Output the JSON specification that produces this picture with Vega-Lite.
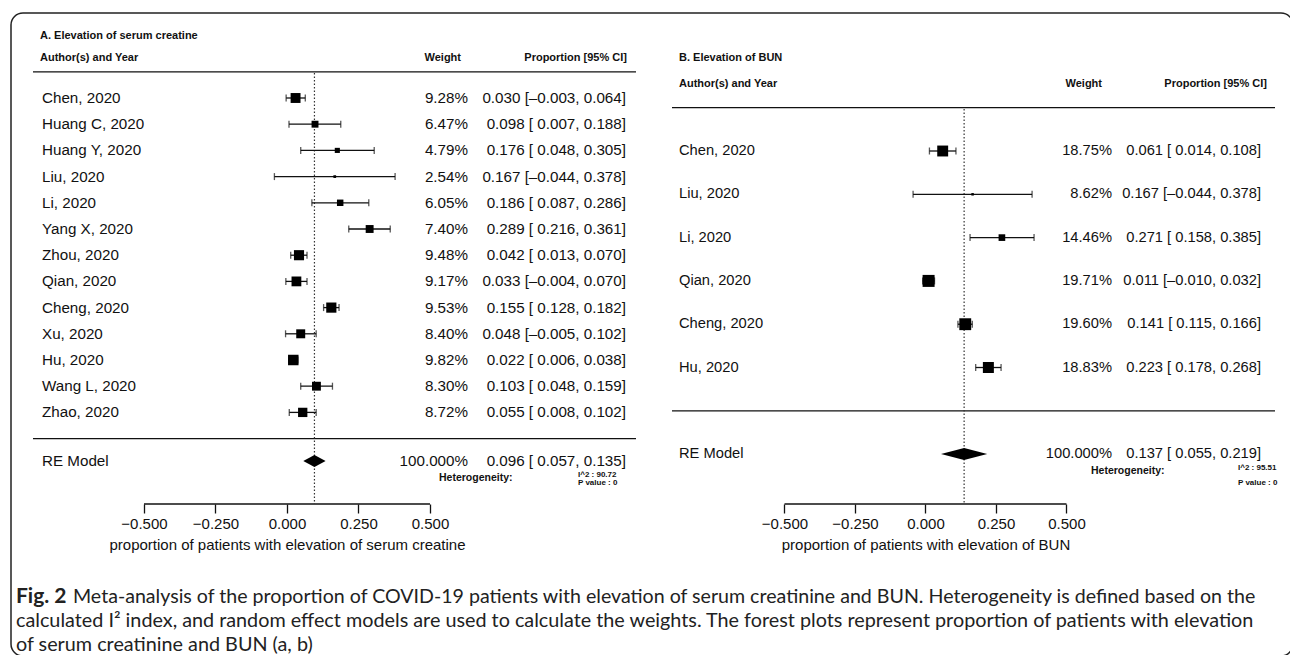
{
  "$schema": "https://vega.github.io/schema/vega-lite/v6.json",
  "padding": {"left": 10, "top": 12, "right": 0, "bottom": 0},
  "bounds": "flush",
  "spacing": 20,
  "background": "white",
  "resolve": {"scale": {"size": "independent"}, "legend": {"size": "independent"}},
  "config": {
    "view": {"stroke": null},
    "font": "Liberation Sans",
    "text": {"font": "Liberation Sans", "color": "#111"},
    "rule": {"color": "#111", "strokeWidth": 1.3},
    "tick": {"color": "#111"},
    "axis": {"labelFont": "Liberation Sans", "titleFont": "Liberation Sans", "labelColor": "#111", "titleColor": "#111", "tickColor": "#111"}
  },
  "datasets": {
    "A": [
      {"row": 1, "study": "Chen, 2020", "w": 0.0928, "est": 0.030, "lo": -0.003, "hi": 0.064, "ci": "0.030 [–0.003, 0.064]"},
      {"row": 2, "study": "Huang C, 2020", "w": 0.0647, "est": 0.098, "lo": 0.007, "hi": 0.188, "ci": "0.098 [ 0.007, 0.188]"},
      {"row": 3, "study": "Huang Y, 2020", "w": 0.0479, "est": 0.176, "lo": 0.048, "hi": 0.305, "ci": "0.176 [ 0.048, 0.305]"},
      {"row": 4, "study": "Liu, 2020", "w": 0.0254, "est": 0.167, "lo": -0.044, "hi": 0.378, "ci": "0.167 [–0.044, 0.378]"},
      {"row": 5, "study": "Li, 2020", "w": 0.0605, "est": 0.186, "lo": 0.087, "hi": 0.286, "ci": "0.186 [ 0.087, 0.286]"},
      {"row": 6, "study": "Yang X, 2020", "w": 0.0740, "est": 0.289, "lo": 0.216, "hi": 0.361, "ci": "0.289 [ 0.216, 0.361]"},
      {"row": 7, "study": "Zhou, 2020", "w": 0.0948, "est": 0.042, "lo": 0.013, "hi": 0.070, "ci": "0.042 [ 0.013, 0.070]"},
      {"row": 8, "study": "Qian, 2020", "w": 0.0917, "est": 0.033, "lo": -0.004, "hi": 0.070, "ci": "0.033 [–0.004, 0.070]"},
      {"row": 9, "study": "Cheng, 2020", "w": 0.0953, "est": 0.155, "lo": 0.128, "hi": 0.182, "ci": "0.155 [ 0.128, 0.182]"},
      {"row": 10, "study": "Xu, 2020", "w": 0.0840, "est": 0.048, "lo": -0.005, "hi": 0.102, "ci": "0.048 [–0.005, 0.102]"},
      {"row": 11, "study": "Hu, 2020", "w": 0.0982, "est": 0.022, "lo": 0.006, "hi": 0.038, "ci": "0.022 [ 0.006, 0.038]"},
      {"row": 12, "study": "Wang L, 2020", "w": 0.0830, "est": 0.103, "lo": 0.048, "hi": 0.159, "ci": "0.103 [ 0.048, 0.159]"},
      {"row": 13, "study": "Zhao, 2020", "w": 0.0872, "est": 0.055, "lo": 0.008, "hi": 0.102, "ci": "0.055 [ 0.008, 0.102]"}
    ],
    "Are": [{"study": "RE Model", "w": 1, "est": 0.096, "lo": 0.057, "hi": 0.135, "ci": "0.096 [ 0.057, 0.135]"}],
    "B": [
      {"row": 1, "study": "Chen, 2020", "w": 0.1875, "est": 0.061, "lo": 0.014, "hi": 0.108, "ci": "0.061 [ 0.014, 0.108]"},
      {"row": 2, "study": "Liu, 2020", "w": 0.0862, "est": 0.167, "lo": -0.044, "hi": 0.378, "ci": "0.167 [–0.044, 0.378]"},
      {"row": 3, "study": "Li, 2020", "w": 0.1446, "est": 0.271, "lo": 0.158, "hi": 0.385, "ci": "0.271 [ 0.158, 0.385]"},
      {"row": 4, "study": "Qian, 2020", "w": 0.1971, "est": 0.011, "lo": -0.010, "hi": 0.032, "ci": "0.011 [–0.010, 0.032]"},
      {"row": 5, "study": "Cheng, 2020", "w": 0.1960, "est": 0.141, "lo": 0.115, "hi": 0.166, "ci": "0.141 [ 0.115, 0.166]"},
      {"row": 6, "study": "Hu, 2020", "w": 0.1883, "est": 0.223, "lo": 0.178, "hi": 0.268, "ci": "0.223 [ 0.178, 0.268]"}
    ],
    "Bre": [{"study": "RE Model", "w": 1, "est": 0.137, "lo": 0.055, "hi": 0.219, "ci": "0.137 [ 0.055, 0.219]"}]
  },
  "hconcat": [
    {
      "width": 630,
      "height": 491,
      "layer": [
        {
          "data": {"values": [{}]},
          "mark": {"type": "rect", "filled": false, "color": "#222", "strokeWidth": 1.5, "cornerRadius": 12},
          "encoding": {
            "x": {"datum": -0.965, "type": "quantitative", "scale": {"domain": [-0.965, 1.2378], "nice": false, "zero": false},
              "axis": {"values": [-0.5, -0.25, 0, 0.25, 0.5], "format": ".3f", "domain": false, "grid": false, "tickSize": 9, "tickWidth": 1.3, "labelFontSize": 15, "labelPadding": 3, "labelFlush": false, "labelOverlap": false, "title": "proportion of patients with elevation of serum creatine", "titleFontSize": 15, "titleFontWeight": "normal", "titlePadding": 6, "titleX": 276, "titleAlign": "center"}},
            "x2": {"datum": 3.5175},
            "y": {"datum": -2.244, "type": "quantitative", "scale": {"domain": [-2.244, 16.496], "nice": false, "zero": false, "reverse": true}, "axis": null},
            "y2": {"datum": 22.298}
          }
        },
        {"data": {"values": [{}]}, "mark": {"type": "rule"}, "encoding": {"x": {"datum": -0.8881}, "x2": {"datum": 1.2203}, "y": {"datum": 0}}},
        {"data": {"values": [{}]}, "mark": {"type": "rule"}, "encoding": {"x": {"datum": -0.8881}, "x2": {"datum": 1.2203}, "y": {"datum": 14}}},
        {"data": {"values": [{}]}, "mark": {"type": "rule"}, "encoding": {"x": {"datum": -0.5}, "x2": {"datum": 0.5}, "y": {"datum": 16.496}}},
        {"data": {"values": [{}]}, "mark": {"type": "rule", "strokeDash": [1.5, 2], "strokeWidth": 1.2, "color": "#333"}, "encoding": {"x": {"datum": 0.096}, "y": {"datum": 0.05}, "y2": {"datum": 16.496}}},
        {"data": {"name": "A"}, "mark": {"type": "rule"}, "encoding": {"x": {"field": "lo", "type": "quantitative"}, "x2": {"field": "hi"}, "y": {"field": "row", "type": "quantitative"}}},
        {"data": {"name": "A"}, "mark": {"type": "tick", "orient": "vertical", "size": 7, "thickness": 1.3}, "encoding": {"x": {"field": "lo", "type": "quantitative"}, "y": {"field": "row", "type": "quantitative"}}},
        {"data": {"name": "A"}, "mark": {"type": "tick", "orient": "vertical", "size": 7, "thickness": 1.3}, "encoding": {"x": {"field": "hi", "type": "quantitative"}, "y": {"field": "row", "type": "quantitative"}}},
        {"data": {"name": "A"}, "mark": {"type": "point", "shape": "square", "filled": true, "opacity": 1, "color": "#000", "strokeWidth": 0},
          "encoding": {"x": {"field": "est", "type": "quantitative"}, "y": {"field": "row", "type": "quantitative"},
            "size": {"field": "w", "type": "quantitative", "scale": {"type": "pow", "exponent": 2, "domain": [0, 0.0982], "range": [0, 110]}, "legend": null}}},
        {"data": {"name": "A"}, "mark": {"type": "text", "align": "left", "baseline": "middle", "fontSize": 15.2}, "encoding": {"x": {"datum": -0.8566}, "y": {"field": "row", "type": "quantitative"}, "text": {"field": "study"}}},
        {"data": {"name": "A"}, "mark": {"type": "text", "align": "right", "baseline": "middle", "fontSize": 15.2}, "encoding": {"x": {"datum": 0.6329}, "y": {"field": "row", "type": "quantitative"}, "text": {"field": "w", "type": "quantitative", "format": ".2%"}}},
        {"data": {"name": "A"}, "mark": {"type": "text", "align": "right", "baseline": "middle", "fontSize": 15.2}, "encoding": {"x": {"datum": 1.1853}, "y": {"field": "row", "type": "quantitative"}, "text": {"field": "ci"}}},
        {"data": {"name": "Are"}, "mark": {"type": "point", "shape": "M-1,0L0,-0.54L1,0L0,0.54Z", "filled": true, "opacity": 1, "color": "#000", "strokeWidth": 0, "size": 497}, "encoding": {"x": {"field": "est", "type": "quantitative"}, "y": {"datum": 14.855}}},
        {"data": {"name": "Are"}, "mark": {"type": "text", "align": "left", "baseline": "middle", "fontSize": 15.2}, "encoding": {"x": {"datum": -0.8566}, "y": {"datum": 14.855}, "text": {"field": "study"}}},
        {"data": {"name": "Are"}, "mark": {"type": "text", "align": "right", "baseline": "middle", "fontSize": 15.2}, "encoding": {"x": {"datum": 0.6329}, "y": {"datum": 14.855}, "text": {"field": "w", "type": "quantitative", "format": ".3%"}}},
        {"data": {"name": "Are"}, "mark": {"type": "text", "align": "right", "baseline": "middle", "fontSize": 15.2}, "encoding": {"x": {"datum": 1.1853}, "y": {"datum": 14.855}, "text": {"field": "ci"}}},
        {"data": {"values": [{}]}, "mark": {"type": "text", "text": "A. Elevation of serum creatine", "align": "left", "baseline": "middle", "fontSize": 11, "fontWeight": "bold"}, "encoding": {"x": {"datum": -0.8636}, "y": {"datum": -1.366}}},
        {"data": {"values": [{}]}, "mark": {"type": "text", "text": "Author(s) and Year", "align": "left", "baseline": "middle", "fontSize": 11, "fontWeight": "bold"}, "encoding": {"x": {"datum": -0.8636}, "y": {"datum": -0.527}}},
        {"data": {"values": [{}]}, "mark": {"type": "text", "text": "Weight", "align": "right", "baseline": "middle", "fontSize": 11, "fontWeight": "bold"}, "encoding": {"x": {"datum": 0.6084}, "y": {"datum": -0.527}}},
        {"data": {"values": [{}]}, "mark": {"type": "text", "text": "Proportion [95% CI]", "align": "right", "baseline": "middle", "fontSize": 11, "fontWeight": "bold"}, "encoding": {"x": {"datum": 1.1888}, "y": {"datum": -0.527}}},
        {"data": {"values": [{}]}, "mark": {"type": "text", "text": "Heterogeneity:", "align": "left", "baseline": "middle", "fontSize": 10.5, "fontWeight": "bold"}, "encoding": {"x": {"datum": 0.5315}, "y": {"datum": 15.504}}},
        {"data": {"values": [{}]}, "mark": {"type": "text", "text": "I^2 : 90.72", "align": "left", "baseline": "middle", "fontSize": 8, "fontWeight": "bold"}, "encoding": {"x": {"datum": 1.0175}, "y": {"datum": 15.4}}},
        {"data": {"values": [{}]}, "mark": {"type": "text", "text": "P value : 0", "align": "left", "baseline": "middle", "fontSize": 8, "fontWeight": "bold"}, "encoding": {"x": {"datum": 1.0175}, "y": {"datum": 15.7}}},
        {"data": {"values": [{}]}, "mark": {"type": "text", "text": "Fig. 2", "align": "left", "baseline": "middle", "font": "Lato", "fontSize": 21, "fontWeight": "bold", "color": "#222"}, "encoding": {"x": {"datum": -0.9476}, "y": {"datum": 20.046}}},
        {"data": {"values": [{}]}, "mark": {"type": "text", "text": "Meta-analysis of the proportion of COVID-19 patients with elevation of serum creatinine and BUN. Heterogeneity is defined based on the", "align": "left", "baseline": "middle", "font": "Lato", "fontSize": 19.6, "color": "#222"}, "encoding": {"x": {"datum": -0.7483}, "y": {"datum": 20.046}}},
        {"data": {"values": [{}]}, "mark": {"type": "text", "text": "calculated I² index, and random effect models are used to calculate the weights. The forest plots represent proportion of patients with elevation", "align": "left", "baseline": "middle", "font": "Lato", "fontSize": 19.8, "color": "#222"}, "encoding": {"x": {"datum": -0.9476}, "y": {"datum": 20.962}}},
        {"data": {"values": [{}]}, "mark": {"type": "text", "text": "of serum creatinine and BUN (a, b)", "align": "left", "baseline": "middle", "font": "Lato", "fontSize": 19.8, "color": "#222"}, "encoding": {"x": {"datum": -0.9476}, "y": {"datum": 21.878}}}
      ]
    },
    {
      "width": 625,
      "height": 491,
      "layer": [
        {"data": {"values": [{}]}, "mark": {"type": "rule"},
          "encoding": {
            "x": {"datum": -0.8989, "type": "quantitative", "scale": {"domain": [-0.9379, 1.2784], "nice": false, "zero": false},
              "axis": {"values": [-0.5, -0.25, 0, 0.25, 0.5], "format": ".3f", "domain": false, "grid": false, "tickSize": 9, "tickWidth": 1.3, "labelFontSize": 15, "labelPadding": 3, "labelFlush": false, "labelOverlap": false, "title": "proportion of patients with elevation of BUN", "titleFontSize": 15, "titleFontWeight": "normal", "titlePadding": 6, "titleX": 264.5, "titleAlign": "center"}},
            "x2": {"datum": 1.2394},
            "y": {"datum": 0, "type": "quantitative", "scale": {"domain": [-2.187, 9.152], "nice": false, "zero": false, "reverse": true}, "axis": null}
          }
        },
        {"data": {"values": [{}]}, "mark": {"type": "rule"}, "encoding": {"x": {"datum": -0.8989}, "x2": {"datum": 1.2394}, "y": {"datum": 7}}},
        {"data": {"values": [{}]}, "mark": {"type": "rule"}, "encoding": {"x": {"datum": -0.5}, "x2": {"datum": 0.5}, "y": {"datum": 9.152}}},
        {"data": {"values": [{}]}, "mark": {"type": "rule", "strokeDash": [1.5, 2], "strokeWidth": 1.2, "color": "#333"}, "encoding": {"x": {"datum": 0.137}, "y": {"datum": 0.03}, "y2": {"datum": 9.152}}},
        {"data": {"name": "B"}, "mark": {"type": "rule"}, "encoding": {"x": {"field": "lo", "type": "quantitative"}, "x2": {"field": "hi"}, "y": {"field": "row", "type": "quantitative"}}},
        {"data": {"name": "B"}, "mark": {"type": "tick", "orient": "vertical", "size": 7, "thickness": 1.3}, "encoding": {"x": {"field": "lo", "type": "quantitative"}, "y": {"field": "row", "type": "quantitative"}}},
        {"data": {"name": "B"}, "mark": {"type": "tick", "orient": "vertical", "size": 7, "thickness": 1.3}, "encoding": {"x": {"field": "hi", "type": "quantitative"}, "y": {"field": "row", "type": "quantitative"}}},
        {"data": {"name": "B"}, "mark": {"type": "point", "shape": "square", "filled": true, "opacity": 1, "color": "#000", "strokeWidth": 0},
          "encoding": {"x": {"field": "est", "type": "quantitative"}, "y": {"field": "row", "type": "quantitative"},
            "size": {"field": "w", "type": "quantitative", "scale": {"type": "pow", "exponent": 3.8, "domain": [0, 0.1971], "range": [0, 144]}, "legend": null}}},
        {"data": {"name": "B"}, "mark": {"type": "text", "align": "left", "baseline": "middle", "fontSize": 14.7}, "encoding": {"x": {"datum": -0.8741}, "y": {"field": "row", "type": "quantitative"}, "text": {"field": "study"}}},
        {"data": {"name": "B"}, "mark": {"type": "text", "align": "right", "baseline": "middle", "fontSize": 14.7}, "encoding": {"x": {"datum": 0.6613}, "y": {"field": "row", "type": "quantitative"}, "text": {"field": "w", "type": "quantitative", "format": ".2%"}}},
        {"data": {"name": "B"}, "mark": {"type": "text", "align": "right", "baseline": "middle", "fontSize": 14.7}, "encoding": {"x": {"datum": 1.1897}, "y": {"field": "row", "type": "quantitative"}, "text": {"field": "ci"}}},
        {"data": {"name": "Bre"}, "mark": {"type": "point", "shape": "M-1,0L0,-0.26L1,0L0,0.26Z", "filled": true, "opacity": 1, "color": "#000", "strokeWidth": 0, "size": 2134}, "encoding": {"x": {"field": "est", "type": "quantitative"}, "y": {"datum": 8}}},
        {"data": {"name": "Bre"}, "mark": {"type": "text", "align": "left", "baseline": "middle", "fontSize": 14.7}, "encoding": {"x": {"datum": -0.8741}, "y": {"datum": 8}, "text": {"field": "study"}}},
        {"data": {"name": "Bre"}, "mark": {"type": "text", "align": "right", "baseline": "middle", "fontSize": 14.7}, "encoding": {"x": {"datum": 0.6613}, "y": {"datum": 8}, "text": {"field": "w", "type": "quantitative", "format": ".3%"}}},
        {"data": {"name": "Bre"}, "mark": {"type": "text", "align": "right", "baseline": "middle", "fontSize": 14.7}, "encoding": {"x": {"datum": 1.1897}, "y": {"datum": 8}, "text": {"field": "ci"}}},
        {"data": {"values": [{}]}, "mark": {"type": "text", "text": "B. Elevation of BUN", "align": "left", "baseline": "middle", "fontSize": 11, "fontWeight": "bold"}, "encoding": {"x": {"datum": -0.8741}, "y": {"datum": -1.148}}},
        {"data": {"values": [{}]}, "mark": {"type": "text", "text": "Author(s) and Year", "align": "left", "baseline": "middle", "fontSize": 11, "fontWeight": "bold"}, "encoding": {"x": {"datum": -0.8741}, "y": {"datum": -0.547}}},
        {"data": {"values": [{}]}, "mark": {"type": "text", "text": "Weight", "align": "right", "baseline": "middle", "fontSize": 11, "fontWeight": "bold"}, "encoding": {"x": {"datum": 0.6259}, "y": {"datum": -0.547}}},
        {"data": {"values": [{}]}, "mark": {"type": "text", "text": "Proportion [95% CI]", "align": "right", "baseline": "middle", "fontSize": 11, "fontWeight": "bold"}, "encoding": {"x": {"datum": 1.211}, "y": {"datum": -0.547}}},
        {"data": {"values": [{}]}, "mark": {"type": "text", "text": "Heterogeneity:", "align": "left", "baseline": "middle", "fontSize": 10.5, "fontWeight": "bold"}, "encoding": {"x": {"datum": 0.5869}, "y": {"datum": 8.39}}},
        {"data": {"values": [{}]}, "mark": {"type": "text", "text": "I^2 : 95.51", "align": "left", "baseline": "middle", "fontSize": 8, "fontWeight": "bold"}, "encoding": {"x": {"datum": 1.1082}, "y": {"datum": 8.33}}},
        {"data": {"values": [{}]}, "mark": {"type": "text", "text": "P value : 0", "align": "left", "baseline": "middle", "fontSize": 8, "fontWeight": "bold"}, "encoding": {"x": {"datum": 1.1082}, "y": {"datum": 8.667}}}
      ]
    }
  ]
}
